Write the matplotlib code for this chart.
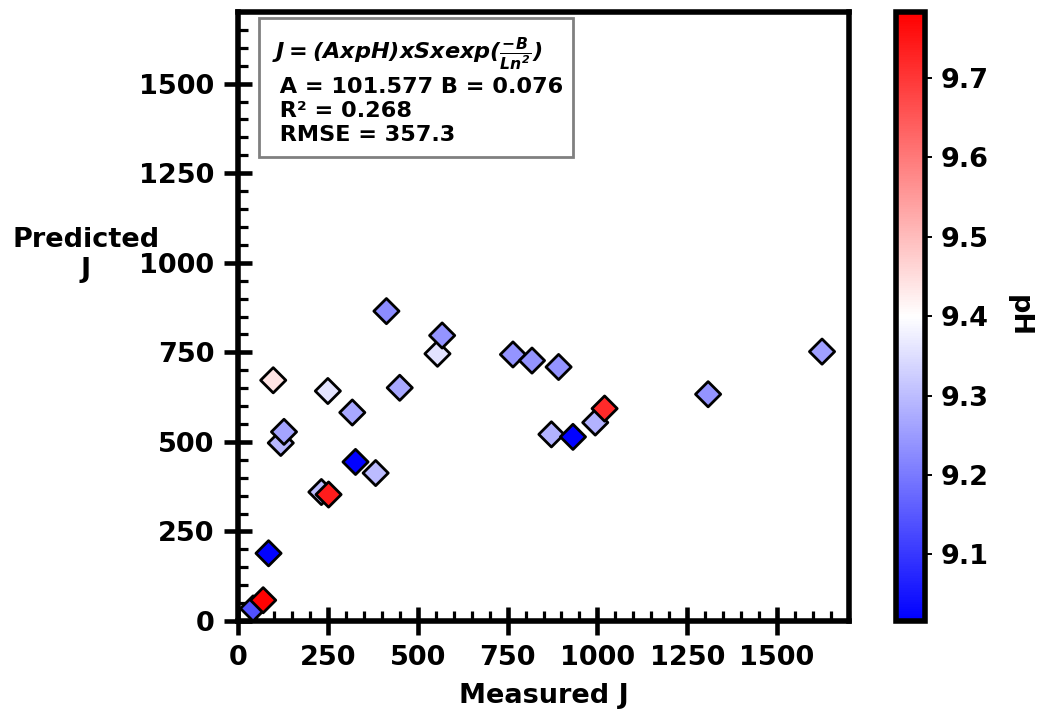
import numpy as np
import matplotlib
matplotlib.use("Agg")
import matplotlib.pyplot as plt
from matplotlib.patches import Rectangle
from matplotlib.ticker import MultipleLocator

# Measured vs predicted flux, coloured by pH
measured = [413, 555, 568, 98, 250, 450, 318, 119, 128, 327, 383, 232, 252,
            85, 42, 70, 765, 818, 892, 994, 1020, 872, 932, 1625, 1308]
predicted = [865, 746, 797, 672, 642, 651, 582, 497, 528, 444, 413, 360, 353,
             189, 35, 58, 744, 727, 709, 554, 593, 521, 514, 752, 633]
ph = [9.226, 9.355, 9.24, 9.44, 9.36, 9.27, 9.27, 9.29, 9.264, 9.02, 9.30, 9.30, 9.74,
      9.02, 9.136, 9.78, 9.24, 9.24, 9.24, 9.285, 9.72, 9.285, 9.02, 9.256, 9.24]

ph_min, ph_max = 9.016, 9.783
axis_max = 1700
major_ticks = [0, 250, 500, 750, 1000, 1250, 1500]
cbar_ticks = [9.1, 9.2, 9.3, 9.4, 9.5, 9.6, 9.7]

fit_lines = [
    r'$\mathbfit{J = (AxpH)xSxexp(\frac{-B}{Ln^2})}$',
    ' A = 101.577 B = 0.076',
    ' R\u00b2 = 0.268',
    ' RMSE = 357.3',
]

FS = 19.5
plt.rcParams['font.family'] = ['DejaVu Sans']
plt.rcParams['font.weight'] = 'bold'

fig = plt.figure(figsize=(10.38, 7.12), dpi=100)
ax = fig.add_axes([238 / 1038, 91 / 712, 611 / 1038, 609 / 712])

sc = ax.scatter(measured, predicted, c=ph, cmap='bwr', vmin=ph_min, vmax=ph_max,
                marker='D', s=165, edgecolors='black', linewidths=2.0, zorder=3)

ax.set_xlim(0, axis_max)
ax.set_ylim(0, axis_max)
ax.set_xticks(major_ticks)
ax.set_yticks(major_ticks)
ax.xaxis.set_minor_locator(MultipleLocator(50))
ax.yaxis.set_minor_locator(MultipleLocator(50))
ax.tick_params(which='major', direction='inout', length=20, width=3.3,
               labelsize=FS, pad=7)
ax.tick_params(which='minor', direction='in', length=7, width=2.3)
for lbl in ax.get_xticklabels() + ax.get_yticklabels():
    lbl.set_fontweight('bold')
for sp in ax.spines.values():
    sp.set_linewidth(4)

ax.set_xlabel('Measured J', fontsize=FS, fontweight='bold', labelpad=9)
ax.set_ylabel('Predicted\nJ', fontsize=FS, fontweight='bold', rotation=0,
              ha='center', va='center')
ax.yaxis.set_label_coords(-0.249, 0.601)

# Fit summary box
ax.add_patch(Rectangle((0.0344, 0.762), 0.514, 0.228, transform=ax.transAxes,
                       facecolor='white', edgecolor='gray', linewidth=2,
                       zorder=5))
ax.text(0.0556, 0.962, '\n'.join(fit_lines), transform=ax.transAxes,
        ha='left', va='top', fontsize=16.1, fontweight='bold', linespacing=1.25,
        zorder=6)

cax = fig.add_axes([896 / 1038, 91 / 712, 29 / 1038, 609 / 712])
cb = fig.colorbar(sc, cax=cax)
cb.set_ticks(cbar_ticks)
cb.outline.set_linewidth(4)
cax.tick_params(length=5, width=1.4, labelsize=FS, pad=6)
for lbl in cax.get_yticklabels():
    lbl.set_fontweight('bold')
cb.set_label('pH', fontsize=FS, fontweight='bold', rotation=270, labelpad=31)

fig.savefig('out.png', dpi=100)
